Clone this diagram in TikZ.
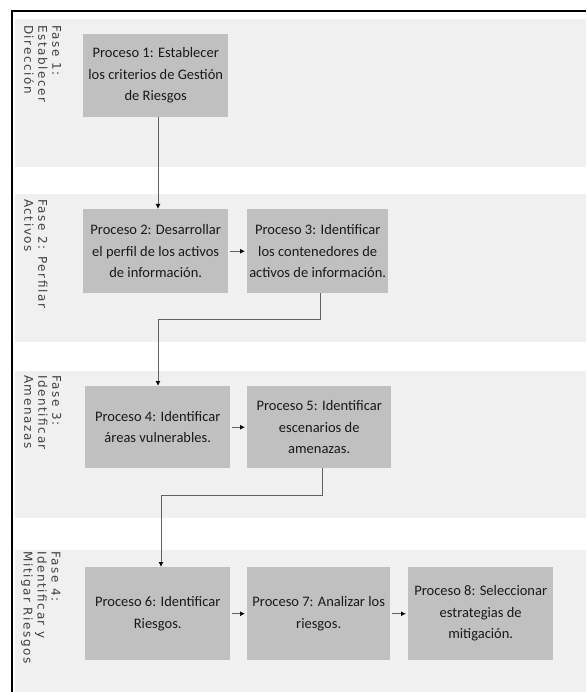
\documentclass[tikz,border=0pt]{standalone}
\usepackage{fontspec}
\setmainfont{Carlito}
\newfontfamily\lanefont[LetterSpace=13]{DejaVu Sans}
\usetikzlibrary{arrows.meta}
\definecolor{lanebg}{HTML}{F0F0F0}
\definecolor{boxbg}{HTML}{C0C0C0}
\definecolor{linec}{HTML}{606060}
\begin{document}
\begin{tikzpicture}[x=1pt,y=-1pt,
  lane/.style={fill=lanebg, draw=none},
  proc/.style={fill=boxbg, draw=none, align=center, anchor=north west,
    font=\fontsize{14.5}{21.5}\selectfont, text=black!90, inner sep=0pt},
  lanelabel/.style={rotate=-90, anchor=south west, align=left, inner sep=0pt,
    font=\lanefont\fontsize{12}{14}\selectfont, text=black!75},
  conn/.style={draw=linec, line width=1pt, -{Latex[length=5pt,width=5pt,color=black]}}
]
\useasboundingbox (0,0) rectangle (586,692);
\fill[white] (0,0) rectangle (586,692);
% lanes
\fill[lane] (15,19) rectangle (586,167);
\fill[lane] (15,194) rectangle (586,342);
\fill[lane] (15,371) rectangle (586,518);
\fill[lane] (15,550) rectangle (586,692);
% frame
\draw[line width=2pt] (12,692) -- (12,11) -- (586,11);
% lane labels
\node[lanelabel] (l1) at (24,25) {Fase 1:\\Establecer\\Dirección};
\node[lanelabel] (l2) at (24,199) {Fase 2: Perfilar\\Activos};
\node[lanelabel] (l3) at (24,375) {Fase 3:\\Identificar\\Amenazas};
\node[lanelabel] (l4) at (21,551) {Fase 4:\\Identificar y\\Mitigar Riesgos};
% process boxes
\node[proc, minimum width=145pt, minimum height=83pt] (p1) at (83,34)
  {Proceso 1: Establecer\\los criterios de Gestión\\de Riesgos};
\node[proc, minimum width=145pt, minimum height=84pt] (p2) at (83,209)
  {Proceso 2: Desarrollar\\el perfil de los activos\\de información.};
\node[proc, minimum width=141pt, minimum height=84pt] (p3) at (247,209)
  {Proceso 3: Identificar\\los contenedores de\\activos de información.};
\node[proc, minimum width=145pt, minimum height=82pt] (p4) at (85,386)
  {Proceso 4: Identificar\\áreas vulnerables.};
\node[proc, minimum width=144pt, minimum height=82pt] (p5) at (247,386)
  {Proceso 5: Identificar\\escenarios de\\amenazas.};
\node[proc, minimum width=145pt, minimum height=93pt] (p6) at (85,567)
  {Proceso 6: Identificar\\Riesgos.};
\node[proc, minimum width=143pt, minimum height=93pt] (p7) at (247,567)
  {Proceso 7: Analizar los\\riesgos.};
\node[proc, minimum width=145pt, minimum height=93pt] (p8) at (408,567)
  {Proceso 8: Seleccionar\\estrategias de\\mitigación.};
% connectors
\coordinate (a1) at (158,0);
\draw[conn] (p1.south -| a1) -- (p2.north -| a1);
\draw[conn] ([xshift=2pt]p2.east) -- ([xshift=-2pt]p3.west);
\coordinate (b1) at (320,319);
\coordinate (c1) at (158,319);
\draw[conn] (p3.south -| b1) -- (b1) -- (c1) -- (p4.north -| c1);
\draw[conn] ([xshift=2pt]p4.east) -- ([xshift=-2pt]p5.west);
\coordinate (b2) at (322,495);
\coordinate (c2) at (161,495);
\draw[conn] (p5.south -| b2) -- (b2) -- (c2) -- (p6.north -| c2);
\draw[conn] ([xshift=2pt]p6.east) -- ([xshift=-2pt]p7.west);
\draw[conn] ([xshift=2pt]p7.east) -- ([xshift=-2pt]p8.west);
\end{tikzpicture}
\end{document}
